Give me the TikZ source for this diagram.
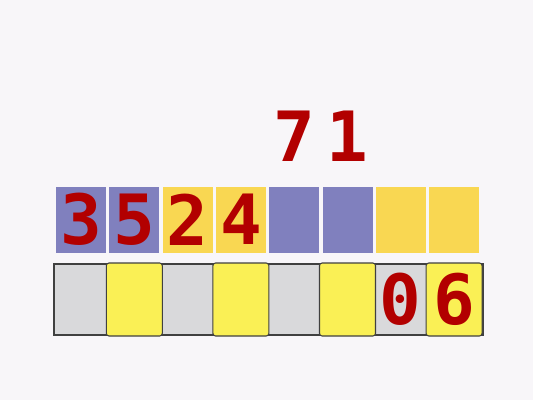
\documentclass[tikz,border=0pt]{standalone}
\usepackage{fontspec}
\usetikzlibrary{positioning}
\newfontfamily\digitfont{DejaVu Sans Mono}
\definecolor{bgwhite}{RGB}{248,246,249}
\definecolor{cellpurple}{RGB}{128,128,190}
\definecolor{cellgold}{RGB}{249,215,82}
\definecolor{cellgrey}{RGB}{217,217,219}
\definecolor{celllemon}{RGB}{250,240,85}
\definecolor{digitred}{RGB}{178,0,0}

\begin{document}
\begin{tikzpicture}[x=0.75pt, y=-0.75pt,
  % ── cells ───────────────────────────────────────────────────────────────
  topcell/.style={
    rectangle, inner sep=0pt,
    minimum width=37.5pt, minimum height=49.5pt
  },
  band/.style={
    rectangle, inner sep=0pt, draw=black!75, line width=0.9pt,
    fill=cellgrey, minimum width=321.75pt, minimum height=53.25pt
  },
  lowcell/.style={
    rectangle, inner sep=0pt, rounded corners=2pt,
    draw=black!75, line width=0.8pt, fill=celllemon,
    minimum width=42pt, minimum height=54.75pt
  },
  % ── digits ──────────────────────────────────────────────────────────────
  numeral/.style={
    inner sep=0pt, text=digitred,
    font=\digitfont\bfseries\fontsize{52}{52}\selectfont
  },
]

% ── Background ──────────────────────────────────────────────────────────────
\fill[bgwhite] (0,0) rectangle (533,400);
\useasboundingbox (0,0) rectangle (533,400);

% ── Upper row ───────────────────────────────────────────────────────────────
\foreach \i/\c in {1/cellpurple,2/cellpurple,3/cellgold,4/cellgold,
                   5/cellpurple,6/cellpurple,7/cellgold,8/cellgold}{
  \node[topcell, fill=\c] (t\i) at ({81+53.3*(\i-1)}, 219.5) {};
}

% ── Lower row ───────────────────────────────────────────────────────────────
\node[band] (strip) at (268.5, 299.5) {};
\foreach \i in {1,3,5,7}{
  \coordinate (b\i) at ({81+53.3*(\i-1)}, 299.5);
}
\foreach \i in {2,4,6,8}{
  \node[lowcell] (b\i) at ({81+53.3*(\i-1)}, 299.5) {};
}

% ── Digits in the cells ─────────────────────────────────────────────────────
\foreach \cell/\d in {t1/3, t2/5, t3/2, t4/4, b7/0, b8/6}{
  \node[numeral] (d-\cell) at (\cell) {\d};
}

% ── Digits waiting above ────────────────────────────────────────────────────
\node[numeral] (up7) [above=18.4pt of t5] {7};
\node[numeral] (up1) [above=18.4pt of t6] {1};

\end{tikzpicture}
\end{document}
